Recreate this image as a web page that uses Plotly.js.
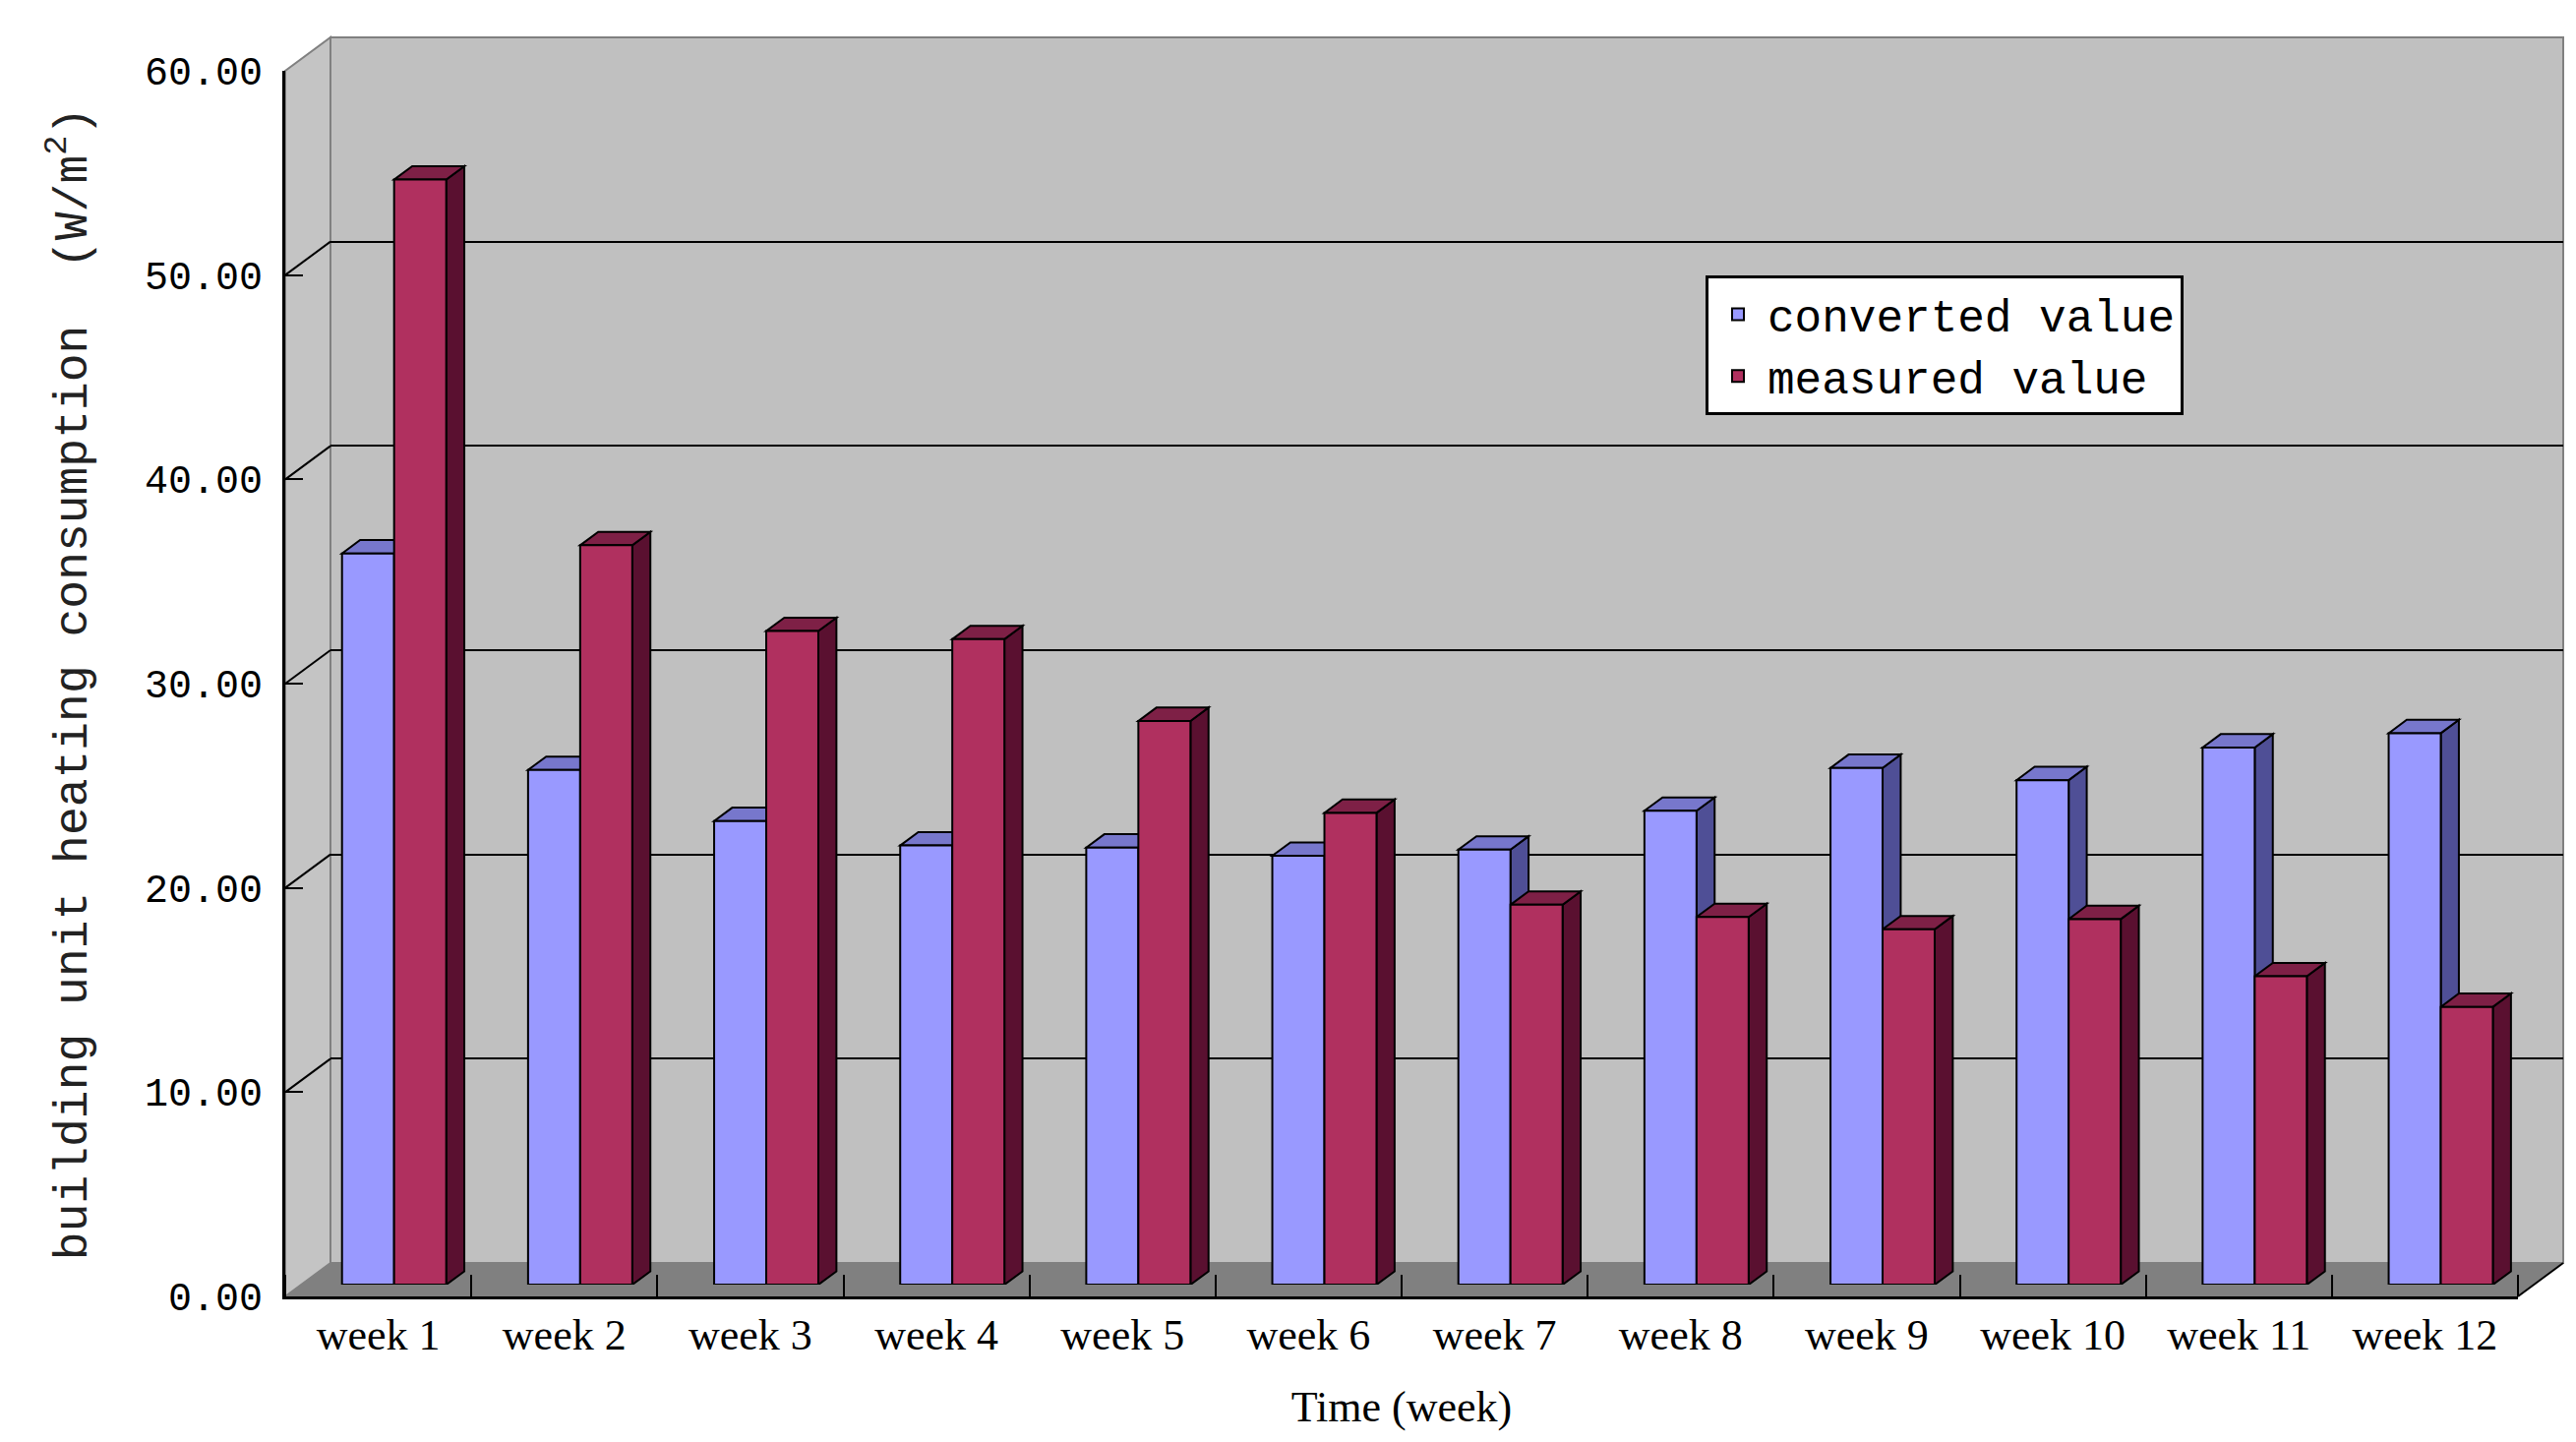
<!DOCTYPE html>
<html>
<head>
<meta charset="utf-8">
<script src="https://cdn.plot.ly/plotly-3.0.1.min.js"></script>
<style>
  html, body { margin: 0; padding: 0; background: #fff; }
  #chart { width: 2619px; height: 1466px; }
</style>
</head>
<body>
<div id="chart"></div>
<script>
// data
var weeks = ['week 1', 'week 2', 'week 3', 'week 4', 'week 5', 'week 6',
             'week 7', 'week 8', 'week 9', 'week 10', 'week 11', 'week 12'];
var converted = [35.8, 25.2, 22.7, 21.5, 21.4, 21.0, 21.3, 23.2, 25.3, 24.7, 26.3, 27.0];
var measured  = [54.1, 36.2, 32.0, 31.6, 27.6, 23.1, 18.6, 18.0, 17.4, 17.9, 15.1, 13.6];
var yTicks = [0, 10, 20, 30, 40, 50, 60];

// page geometry (pixels)
var W = 2619, H = 1466;
var ML = 280, MR = 5, MT = 30, MB = 140;
var PW = W - ML - MR, PH = H - MT - MB;
var FX0 = 290, FX1 = 2560, FY0 = 1318, FY1 = 72;   // front frame
var DX = 46, DY = 34;                              // depth of the box
var BAR_D0 = 0.35, BAR_D1 = 0.75;                  // bar depth inside the box
var YMAX = 60;

function px(x) { return (x - ML) / PW; }
function py(y) { return (MT + PH - y) / PH; }
function yFront(v) { return FY0 - (FY0 - FY1) * v / YMAX; }

var pos = weeks.map(function (w, i) { return i; });

var colConv = { front: '#9999FF', top: '#7777CC', side: '#4F4F96' };
var colMeas = { front: '#B0305F', top: '#7E2046', side: '#5A1030' };

var bw = (1 - 0.44) / 2;
var dxD = (BAR_D1 - BAR_D0) * DX / ((FX1 - FX0) / weeks.length);
var dyD = (BAR_D1 - BAR_D0) * DY / ((FY0 - FY1) / YMAX);

var shapes = [];

// walls and floor
function poly(pts) {
  return pts.map(function (p, k) {
    return (k ? 'L' : 'M') + px(p[0]).toFixed(5) + ',' + py(p[1]).toFixed(5);
  }).join(' ') + ' Z';
}
shapes.push({ type: 'path', xref: 'paper', yref: 'paper', layer: 'below',
  path: poly([[FX0 + DX, FY0 - DY], [FX1 + DX, FY0 - DY], [FX1 + DX, FY1 - DY], [FX0 + DX, FY1 - DY]]),
  fillcolor: '#C0C0C0', line: { color: '#808080', width: 2 } });
shapes.push({ type: 'path', xref: 'paper', yref: 'paper', layer: 'below',
  path: poly([[FX0, FY0], [FX0, FY1], [FX0 + DX, FY1 - DY], [FX0 + DX, FY0 - DY]]),
  fillcolor: '#C4C4C4', line: { color: '#808080', width: 2 } });
shapes.push({ type: 'path', xref: 'paper', yref: 'paper', layer: 'below',
  path: poly([[FX0, FY0], [FX1, FY0], [FX1 + DX, FY0 - DY], [FX0 + DX, FY0 - DY]]),
  fillcolor: '#808080', line: { width: 0 } });
shapes.push({ type: 'line', xref: 'paper', yref: 'paper', layer: 'below',
  x0: px(FX1), y0: py(FY0), x1: px(FX1 + DX), y1: py(FY0 - DY),
  line: { color: '#000', width: 2 } });

// side wall grid lines
yTicks.forEach(function (v) {
  if (v === 0 || v === YMAX) return;
  var y = yFront(v);
  shapes.push({ type: 'line', xref: 'paper', yref: 'paper', layer: 'below',
    x0: px(FX0), y0: py(y), x1: px(FX0 + DX), y1: py(y - DY),
    line: { color: '#000', width: 2 } });
});

// top and side faces of the bars
function faces(vals, x0off, col) {
  vals.forEach(function (v, i) {
    var a = i + x0off, b = a + bw;
    shapes.push({ type: 'path', xref: 'x3', yref: 'y3', layer: 'below',
      path: 'M' + b + ',0 L' + b + ',' + v + ' L' + (b + dxD) + ',' + (v + dyD) +
            ' L' + (b + dxD) + ',' + dyD + ' Z',
      fillcolor: col.side, line: { color: '#000', width: 2 } });
    shapes.push({ type: 'path', xref: 'x3', yref: 'y3', layer: 'below',
      path: 'M' + a + ',' + v + ' L' + b + ',' + v + ' L' + (b + dxD) + ',' + (v + dyD) +
            ' L' + (a + dxD) + ',' + (v + dyD) + ' Z',
      fillcolor: col.top, line: { color: '#000', width: 2 } });
  });
}
faces(converted, -bw, colConv);
faces(measured, 0, colMeas);

var traces = [
  { type: 'bar', name: 'converted value', x: pos, y: converted, xaxis: 'x3', yaxis: 'y3',
    marker: { color: colConv.front, line: { color: '#000', width: 2 } }, hoverinfo: 'skip' },
  { type: 'bar', name: 'measured value', x: pos, y: measured, xaxis: 'x3', yaxis: 'y3',
    marker: { color: colMeas.front, line: { color: '#000', width: 2 } }, hoverinfo: 'skip' },
  { type: 'scatter', x: [], y: [], xaxis: 'x', yaxis: 'y', showlegend: false, hoverinfo: 'skip' },
  { type: 'scatter', x: [], y: [], xaxis: 'x2', yaxis: 'y2', showlegend: false, hoverinfo: 'skip' }
];

var monoFont = { family: 'Liberation Mono, DejaVu Sans Mono, monospace', color: '#000' };
var serifFont = { family: 'Liberation Serif, DejaVu Serif, serif', color: '#000' };
var bounds = [];
for (var k = 0; k <= weeks.length; k++) bounds.push(k - 0.5);

var layout = {
  width: W, height: H,
  margin: { l: ML, r: MR, t: MT, b: MB },
  paper_bgcolor: '#fff',
  plot_bgcolor: 'rgba(0,0,0,0)',
  barmode: 'group', bargap: 0.44, bargroupgap: 0,
  hovermode: false,
  showlegend: true,
  legend: {
    x: px(1734), y: py(280), xanchor: 'left', yanchor: 'top',
    bgcolor: '#fff', bordercolor: '#000', borderwidth: 3,
    font: Object.assign({ size: 46 }, monoFont), traceorder: 'normal',
    itemwidth: 50, tracegroupgap: 0
  },
  // front frame: tick labels and axis lines
  xaxis: {
    domain: [px(FX0), px(FX1)], range: [-0.5, weeks.length - 0.5], anchor: 'y',
    tickmode: 'array', tickvals: pos, ticktext: weeks, ticks: '',
    minor: { tickmode: 'array', tickvals: bounds, ticks: 'inside', ticklen: 22,
             tickwidth: 2, tickcolor: '#000' },
    showline: true, linecolor: '#000', linewidth: 3, showgrid: false, zeroline: false,
    tickfont: Object.assign({ size: 44 }, serifFont), ticklabelstandoff: -2,
    title: { text: 'Time (week)', font: Object.assign({ size: 44 }, serifFont), standoff: 34 },
    fixedrange: true
  },
  yaxis: {
    domain: [py(FY0), py(FY1)], range: [0, YMAX], anchor: 'x',
    tickmode: 'array', tickvals: yTicks, tickformat: '.2f',
    ticks: 'inside', ticklen: 18, tickwidth: 2, tickcolor: '#000',
    showline: true, linecolor: '#000', linewidth: 3, showgrid: false, zeroline: false,
    tickfont: Object.assign({ size: 40 }, monoFont), ticklabelstandoff: 12,
    title: { text: 'building unit heating consumption  (W/m<sup>2</sup>)',
             font: { family: 'Liberation Mono, DejaVu Sans Mono, monospace', size: 48, color: '#222' },
             standoff: 44 },
    fixedrange: true
  },
  // back wall grid
  xaxis2: {
    domain: [px(FX0 + DX), px(FX1 + DX)], range: [-0.5, weeks.length - 0.5], anchor: 'y2',
    visible: false, fixedrange: true
  },
  yaxis2: {
    domain: [py(FY0 - DY), py(FY1 - DY)], range: [0, YMAX], anchor: 'x2',
    tickmode: 'array', tickvals: [10, 20, 30, 40, 50], showticklabels: false, ticks: '',
    showgrid: true, gridcolor: '#000', gridwidth: 2, zeroline: false, showline: false,
    fixedrange: true
  },
  // bar layer, set a little behind the front frame
  xaxis3: {
    domain: [px(FX0 + BAR_D0 * DX), px(FX1 + BAR_D0 * DX)], range: [-0.5, weeks.length - 0.5],
    anchor: 'y3', visible: false, fixedrange: true
  },
  yaxis3: {
    domain: [py(FY0 - BAR_D0 * DY), py(FY1 - BAR_D0 * DY)], range: [0, YMAX],
    anchor: 'x3', visible: false, fixedrange: true
  },
  shapes: shapes
};

Plotly.newPlot('chart', traces, layout, { displayModeBar: false, staticPlot: true });
</script>
</body>
</html>
